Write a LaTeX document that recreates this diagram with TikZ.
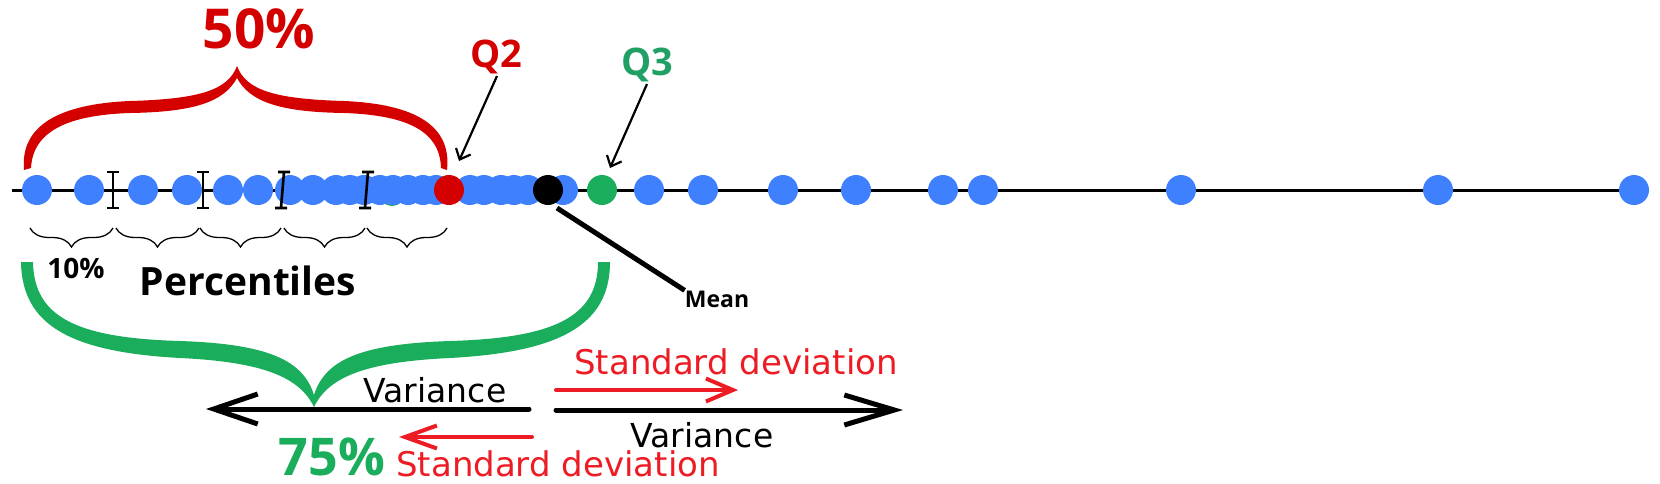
\documentclass[tikz,border=0pt]{standalone}
\usepackage{fontspec}
\setmainfont{DejaVu Sans}
\newfontfamily\labf{Open Sans}
\usetikzlibrary{decorations.pathreplacing,arrows.meta}
\definecolor{dotblue}{HTML}{3F80FF}
\definecolor{deepred}{HTML}{D40000}
\definecolor{brgreen}{HTML}{19AD5C}
\definecolor{qgreen}{HTML}{21A066}
\definecolor{sdred}{HTML}{ED1C24}
\begin{document}
\begin{tikzpicture}[x=1pt,y=-1pt,
  bdot/.style={circle,fill=dotblue,minimum size=30pt,inner sep=0pt},
  rdot/.style={bdot,fill=deepred},
  kdot/.style={bdot,fill=black},
  gdot/.style={bdot,fill=brgreen},
  tickI/.style={line width=2.6pt},
  smallbrace/.style={decorate,decoration={brace,mirror,amplitude=19pt},line width=1.3pt},
  lab/.style={anchor=base,inner sep=0pt},
  bfnt/.style={font=\labf\bfseries\fontsize{#1}{#1}\selectfont},
  rfnt/.style={font=\fontsize{#1}{#1}\selectfont},
  ptr/.style={line width=2.2pt,-{Straight Barb[length=9pt,width=16pt]}},
  bigk/.style={line width=5pt,line cap=round,-{Straight Barb[length=#1,width=30pt]}},
  bigr/.style={sdred,line width=4pt,line cap=round,-{Straight Barb[length=#1,width=23pt]}}
]
\path[use as bounding box] (0,0) rectangle (1660,483);

% axis
\coordinate (ax0) at (12,190);
\coordinate (ax1) at (1642,190);
\draw[line width=3pt] (ax0) -- (ax1);

% dots
\node[gdot,minimum size=26pt] (ghid) at (392,193) {};
\foreach \x [count=\i] in {37,89,143,187,228,258,290,313,336,350,364,380,393,408,423,436}
  \node[bdot] (bl\i) at (\x,190) {};
\foreach \x [count=\i] in {470,484,501,514,528,563}
  \node[bdot] (bm\i) at (\x,190) {};
\foreach \x [count=\i] in {649,703,783,856,943,983,1181,1438,1634}
  \node[bdot] (br\i) at (\x,190) {};
\node[rdot] (q2) at (449,190) {};
\node[kdot] (mean) at (548,190) {};
\node[gdot] (q3) at (602,190) {};

% I-beam ticks
\foreach \x/\t in {113/113,203/203,281/284,365/368}
  \draw[tickI] (\x-6,208) -- (\x+6,208) (\x,208) -- (\t,172) (\t-6,172) -- (\t+6,172);

% small braces
\foreach \a/\b in {30/113,116/199,200/281,284/365,367/447}
  \draw[smallbrace] (\a,228) -- (\b,228);

% red brace (50%)
\fill[deepred] (24,170) .. controls (20,125) and (60,104) .. (130,101)
  .. controls (200,99) and (228,90) .. (237,66)
  .. controls (246,90) and (274,99) .. (344,101)
  .. controls (414,104) and (452,125) .. (447,170)
  -- (441,168) .. controls (440,130) and (405,115) .. (344,113)
  .. controls (280,112) and (250,102) .. (237,78)
  .. controls (224,102) and (194,112) .. (130,113)
  .. controls (70,115) and (33,130) .. (31,168) -- cycle;

% green brace (75%)
\fill[brgreen] (21,262) .. controls (22,325) and (70,352) .. (180,358)
  .. controls (265,362) and (300,378) .. (314,407)
  .. controls (328,378) and (363,362) .. (450,358)
  .. controls (560,352) and (610,325) .. (610,262)
  -- (598,262) .. controls (598,318) and (552,338) .. (450,341)
  .. controls (360,344) and (325,360) .. (314,395)
  .. controls (303,360) and (268,344) .. (180,341)
  .. controls (78,338) and (34,318) .. (33,262) -- cycle;

% labels
\node[lab,bfnt=55,text=deepred] (p50) at (259,48) {50\%};
\node[lab,bfnt=38,text=deepred] (q2l) at (496,67) {Q2};
\node[lab,bfnt=38,text=qgreen] (q3l) at (647,75) {Q3};
\node[lab,bfnt=28] (p10) at (76,278) {10\%};
\node[lab,bfnt=39] (perc) at (248,295) {Percentiles};
\node[lab,bfnt=23] (meanl) at (717,307) {Mean};
\node[lab,bfnt=52,text=brgreen] (p75) at (332,475) {75\%};
\node[lab,rfnt=33] (var1) at (435,402) {Variance};
\node[lab,rfnt=33] (var2) at (702,447) {Variance};
\node[lab,rfnt=34,text=sdred] (sd1) at (736,374) {Standard deviation};
\node[lab,rfnt=34,text=sdred] (sd2) at (558,476) {Standard deviation};

% pointers
\coordinate (q2s) at (497,76);
\coordinate (q2t) at (459,161);
\coordinate (q3s) at (647,84);
\coordinate (q3t) at (610,168);
\draw[ptr] (q2s) -- (q2t);
\draw[ptr] (q3s) -- (q3t);
\coordinate (ms) at (557,208);
\draw[line width=5pt] (ms) -- (meanl.north west);

% variance / sd arrows
\coordinate (vl0) at (529,409);
\coordinate (vl1) at (206,409);
\coordinate (vr0) at (556,410);
\coordinate (vr1) at (903,410);
\coordinate (sr0) at (556,390);
\coordinate (sr1) at (738,390);
\coordinate (sl0) at (532,437);
\coordinate (sl1) at (399,437);
\draw[bigk=44pt] (vl0) -- (vl1);
\draw[bigk=50pt] (vr0) -- (vr1);
\draw[bigr=27pt] (sr0) -- (sr1);
\draw[bigr=32pt] (sl0) -- (sl1);
\end{tikzpicture}
\end{document}
